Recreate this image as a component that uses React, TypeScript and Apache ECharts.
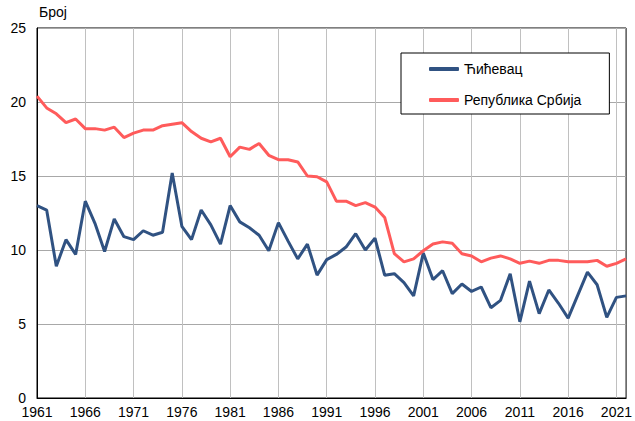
import React, { useEffect, useRef } from "react";
import * as echarts from "echarts";

const years: string[] = [];
for (let y = 1961; y <= 2022; y++) years.push(String(y));

const cicevacName = "Ћићевац";
const serbiaName = "Република Србија";

const cicevac = [
  13.0, 12.7, 8.9, 10.7, 9.7, 13.3, 11.8, 9.9, 12.1, 10.9,
  10.7, 11.3, 11.0, 11.2, 15.2, 11.6, 10.7, 12.7, 11.7, 10.4,
  13.0, 11.9, 11.5, 11.0, 9.95, 11.85, 10.6, 9.4, 10.4, 8.3,
  9.35, 9.7, 10.2, 11.1, 10.0, 10.8, 8.3, 8.4, 7.8, 6.9,
  9.8, 8.0, 8.6, 7.05, 7.7, 7.2, 7.5, 6.1, 6.6, 8.4,
  5.15, 7.9, 5.7, 7.3, 6.4, 5.4, 6.95, 8.5, 7.65, 5.45,
  6.8, 6.9,
];

const serbia = [
  20.4, 19.6, 19.2, 18.6, 18.85, 18.2, 18.2, 18.1, 18.3, 17.6,
  17.9, 18.1, 18.1, 18.4, 18.5, 18.6, 18.0, 17.55, 17.3, 17.55,
  16.3, 16.95, 16.8, 17.2, 16.4, 16.1, 16.1, 15.95, 15.0, 14.95,
  14.6, 13.3, 13.3, 13.0, 13.2, 12.9, 12.2, 9.75, 9.2, 9.4,
  9.95, 10.4, 10.55, 10.45, 9.75, 9.6, 9.2, 9.45, 9.6, 9.4,
  9.1, 9.25, 9.1, 9.3, 9.3, 9.2, 9.2, 9.2, 9.3, 8.9,
  9.1, 9.4,
];

const yAxisTitle = "Број";

const FONT = "'Liberation Sans', Arial, sans-serif";
const BLUE = "#305282";
const RED = "#FF5B5B";

export default function App() {
  const ref = useRef<HTMLDivElement>(null);
  useEffect(() => {
    if (!ref.current) return;
    const chart = echarts.init(ref.current, null, { renderer: "svg" });
    chart.setOption({
      animation: false,
      backgroundColor: "#ffffff",
      textStyle: { fontFamily: FONT },
      grid: {
        left: 37,
        right: 6,
        top: 28,
        bottom: 23,
        show: true,
        borderColor: "#000000",
        borderWidth: 1,
      },
      graphic: [
        {
          type: "text",
          left: 39,
          top: 5,
          style: { text: yAxisTitle, font: `14px ${FONT}`, fill: "#000000" },
        },
      ],
      legend: {
        orient: "vertical",
        left: 401,
        top: 53,
        padding: [9, 28, 7, 28],
        itemGap: 17,
        itemWidth: 30,
        itemHeight: 4,
        backgroundColor: "#ffffff",
        borderColor: "#000000",
        borderWidth: 1,
        borderRadius: 0,
        icon: "roundRect",
        textStyle: { fontSize: 14, color: "#000000", fontFamily: FONT, lineHeight: 14 },
        data: [
          { name: cicevacName, itemStyle: { color: BLUE } },
          { name: serbiaName, itemStyle: { color: RED } },
        ],
      },
      xAxis: {
        type: "category",
        data: years,
        boundaryGap: false,
        axisLine: { show: true, lineStyle: { color: "#000000", width: 1 } },
        axisTick: { show: false },
        axisLabel: {
          interval: 4,
          color: "#000000",
          fontSize: 14,
          fontFamily: FONT,
          margin: 7,
        },
        splitLine: {
          show: true,
          interval: 4,
          lineStyle: { color: "#c0c0c0", width: 1 },
        },
      },
      yAxis: {
        type: "value",
        min: 0,
        max: 25,
        interval: 5,
        axisLine: { show: true, lineStyle: { color: "#000000", width: 1 } },
        axisTick: { show: false },
        axisLabel: { color: "#000000", fontSize: 14, fontFamily: FONT, margin: 11 },
        splitLine: { show: true, lineStyle: { color: "#a8a8a8", width: 1 } },
      },
      series: [
        {
          name: cicevacName,
          type: "line",
          data: cicevac,
          symbol: "none",
          lineStyle: { color: BLUE, width: 3 },
          itemStyle: { color: BLUE },
        },
        {
          name: serbiaName,
          type: "line",
          data: serbia,
          symbol: "none",
          lineStyle: { color: RED, width: 3 },
          itemStyle: { color: RED },
        },
      ],
    });
    return () => chart.dispose();
  }, []);
  return <div ref={ref} style={{ width: 635, height: 421, position: "fixed", left: 0, top: 0 }} />;
}
